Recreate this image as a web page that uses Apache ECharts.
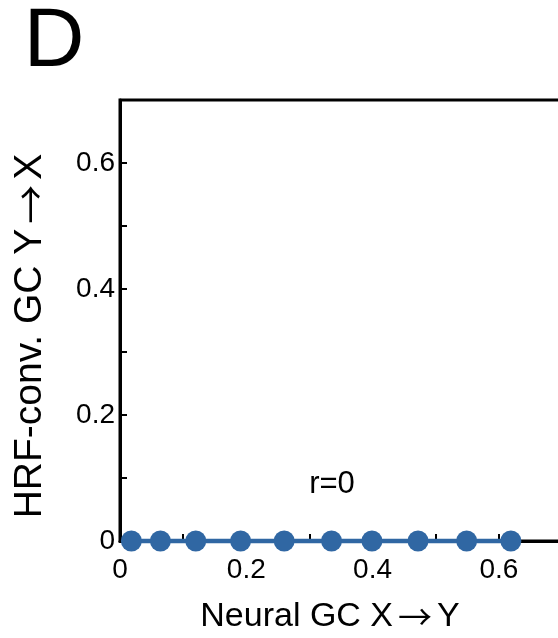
<!DOCTYPE html>
<html>
<head>
<meta charset="utf-8">
<script src="https://cdn.jsdelivr.net/npm/echarts@6/dist/echarts.min.js"></script>
<style>
  html, body { margin: 0; padding: 0; background: #fff; }
  #chart { width: 558px; height: 638px; }
</style>
</head>
<body>
<div id="chart"></div>
<script>
// Neural Granger causality (X -> Y) against HRF-convolved GC (Y -> X)
const neuralGC = [0.018, 0.064, 0.120, 0.191, 0.260, 0.335, 0.399, 0.472, 0.549, 0.619];
const hrfGC    = [0, 0, 0, 0, 0, 0, 0, 0, 0, 0];
const xTicks = [0, 0.2, 0.4, 0.6];
const yTicks = [0, 0.2, 0.4, 0.6];
const panelLabel = 'D';
const corrText = 'r=0';
const xTitleParts = ['Neural GC X', '\u2192', 'Y'];
const yTitleParts = ['HRF-conv. GC Y', '\u2192', 'X'];

const FONT = "'Liberation Sans', Arial, Helvetica, sans-serif";
const ARROW_FONT = "'Noto Sans CJK JP', 'DejaVu Sans', sans-serif";
const BLUE = '#3067a3';

function tickFormatter(list) {
  return function (v) {
    const hit = list.find(t => Math.abs(t - v) < 1e-6);
    if (hit === undefined) return '';
    return hit === 0 ? '0' : hit.toFixed(1);
  };
}

// Title text with a chevron-headed arrow glyph
function titleText(parts, size, gap) {
  return {
    text: '{t|' + parts[0] + '}{a|' + parts[1] + '}{t|' + parts[2] + '}',
    rich: {
      t: { font: size + 'px ' + FONT, fill: '#000' },
      a: { font: size + 'px ' + ARROW_FONT, fill: '#000', padding: [0, gap, 0, gap] }
    },
    align: 'center', verticalAlign: 'middle'
  };
}

const chart = echarts.init(document.getElementById('chart'), null, { renderer: 'canvas' });

chart.setOption({
  animation: false,
  backgroundColor: '#fff',
  grid: {
    left: 120, right: -4, top: 100, bottom: 97,
    outerBoundsMode: 'none',
    show: true, borderColor: '#000', borderWidth: 3, backgroundColor: 'transparent'
  },
  xAxis: {
    type: 'value', min: 0, max: 0.7, interval: 0.1,
    splitLine: { show: false },
    axisLine: { show: true, onZero: false, lineStyle: { color: '#000', width: 3 } },
    axisTick: { show: true, inside: true, length: 7, lineStyle: { color: '#000', width: 2 } },
    axisLabel: {
      formatter: tickFormatter(xTicks), margin: 15,
      color: '#000', fontSize: 28, fontFamily: FONT
    }
  },
  yAxis: {
    type: 'value', min: 0, max: 0.7, interval: 0.1,
    splitLine: { show: false },
    axisLine: { show: true, onZero: false, lineStyle: { color: '#000', width: 3 } },
    axisTick: { show: true, inside: true, length: 7, lineStyle: { color: '#000', width: 2 } },
    axisLabel: {
      formatter: tickFormatter(yTicks), margin: 5,
      color: '#000', fontSize: 28, fontFamily: FONT
    }
  },
  series: [{
    type: 'line',
    data: neuralGC.map((x, i) => [x, hrfGC[i]]),
    symbol: 'circle',
    symbolSize: 21,
    clip: false,
    lineStyle: { color: BLUE, width: 4.5 },
    itemStyle: { color: BLUE },
    z: 5
  }],
  graphic: [
    {
      type: 'text', x: 54, y: 43,
      style: { text: panelLabel, fill: '#000', font: '84px ' + FONT, align: 'center', verticalAlign: 'middle' }
    },
    {
      type: 'text', x: 332, y: 484,
      style: { text: corrText, fill: '#000', font: '31px ' + FONT, align: 'center', verticalAlign: 'middle' }
    },
    {
      type: 'text', x: 330, y: 617,
      style: titleText(xTitleParts, 34, 5)
    },
    {
      type: 'text', x: 30, y: 336, rotation: Math.PI / 2,
      style: titleText(yTitleParts, 39, 5)
    }
  ]
});
</script>
</body>
</html>
